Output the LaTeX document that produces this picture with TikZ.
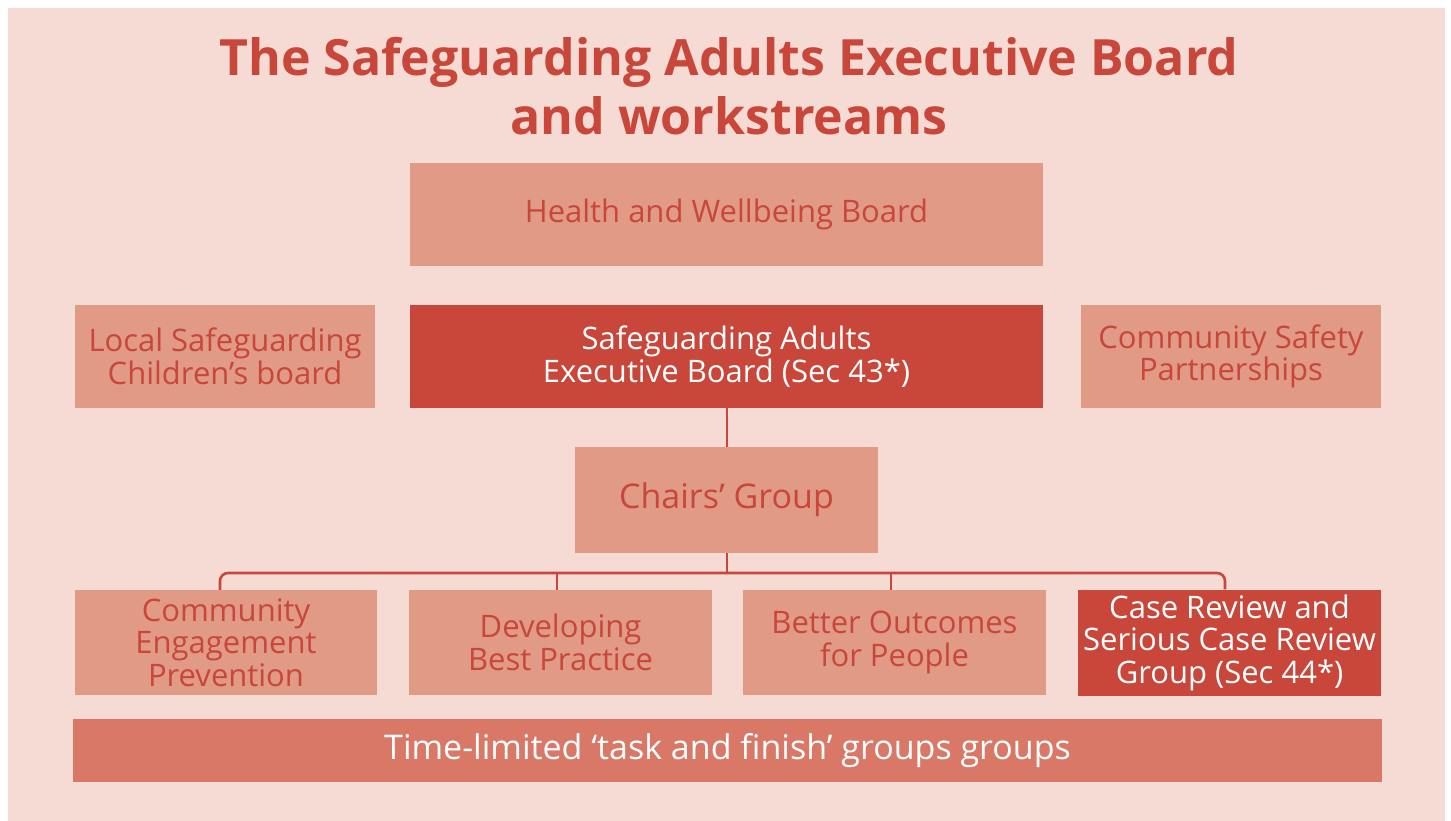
\documentclass[tikz,border=0pt]{standalone}
\usepackage{fontspec}
\setmainfont{Open Sans}
\usepackage{tikz}
\usetikzlibrary{calc}

\definecolor{pagepink}{HTML}{F5DBD3}
\definecolor{boxpink}{HTML}{E09A86}
\definecolor{boardred}{HTML}{C8463A}
\definecolor{taskred}{HTML}{D97866}

\tikzset{
  box/.style={rectangle, inner sep=0pt, align=center, font=\fontsize{31}{32.5}\selectfont},
  lightbox/.style={box, fill=boxpink, text=boardred},
  darkbox/.style={box, fill=boardred, text=white},
  link/.style={draw=boardred, line width=2.6pt},
}

\begin{document}
\begin{tikzpicture}[x=1pt, y=-1pt]
			%%%%% START %%%%%
			
			\useasboundingbox (0, 0) rectangle (1451, 821);
			\fill[white] (0, 0) rectangle (1451, 821);
			\fill[pagepink] (8, 8) rectangle (1445, 821);
			
			\node[text=boardred, align=center, inner sep=0pt,
			      font=\fontsize{50}{58.5}\selectfont\bfseries] (title) at (729, 86)
			      {The Safeguarding Adults Executive Board\\and workstreams};
			
			\node[lightbox, minimum width=633, minimum height=103] (hwb) at (726.5, 214.5) {Health and Wellbeing Board};
			
			\node[darkbox, minimum width=633, minimum height=103] (saeb) at (726.5, 356.5) {Safeguarding Adults\\Executive Board (Sec 43*)};
			\node[lightbox, minimum width=300, minimum height=103] (lscb) at (225, 356.5) {Local Safeguarding\\Children’s board};
			\node[lightbox, minimum width=300, minimum height=103] (csp) at (1231, 356.5) {Community Safety\\Partnerships};
			
			\node[lightbox, minimum width=303, minimum height=106, font=\fontsize{34}{36}\selectfont] (chairs) at (726.5, 500) {Chairs’ Group};
			
			\node[lightbox, minimum width=302, minimum height=105] (cep) at (226, 642.5) {Community\\Engagement\\Prevention};
			\node[lightbox, minimum width=303, minimum height=105] (dbp) at (560.5, 642.5) {Developing\\Best Practice};
			\node[lightbox, minimum width=303, minimum height=105] (bop) at (894.5, 642.5) {Better Outcomes\\for People};
			\node[darkbox, minimum width=303, minimum height=106] (crg) at (1229.5, 642.5) {Case Review and\\Serious Case Review\\Group (Sec 44*)};
			
			\node[box, fill=taskred, text=white, minimum width=1309, minimum height=63, font=\fontsize{34}{36}\selectfont] (task) at (727.5, 750.5) {Time-limited ‘task and finish’ groups groups};
			
			% links
			\coordinate (bus) at (727, 573);
			\draw[link] ([xshift=0.5pt]saeb.south) -- ([xshift=0.5pt]chairs.north);
			\draw[link] ([xshift=0.5pt]chairs.south) -- (bus);
			\draw[link, rounded corners=8pt] ([xshift=-6pt]cep.north) |- (bus) -| ([xshift=-4.5pt]crg.north);
			\draw[link] ([xshift=-3.5pt]dbp.north) -- ([xshift=-3.5pt]dbp.north |- bus);
			\draw[link] ([xshift=-3.5pt]bop.north) -- ([xshift=-3.5pt]bop.north |- bus);
			
			%%%%% END %%%%%
\end{tikzpicture}
\end{document}
